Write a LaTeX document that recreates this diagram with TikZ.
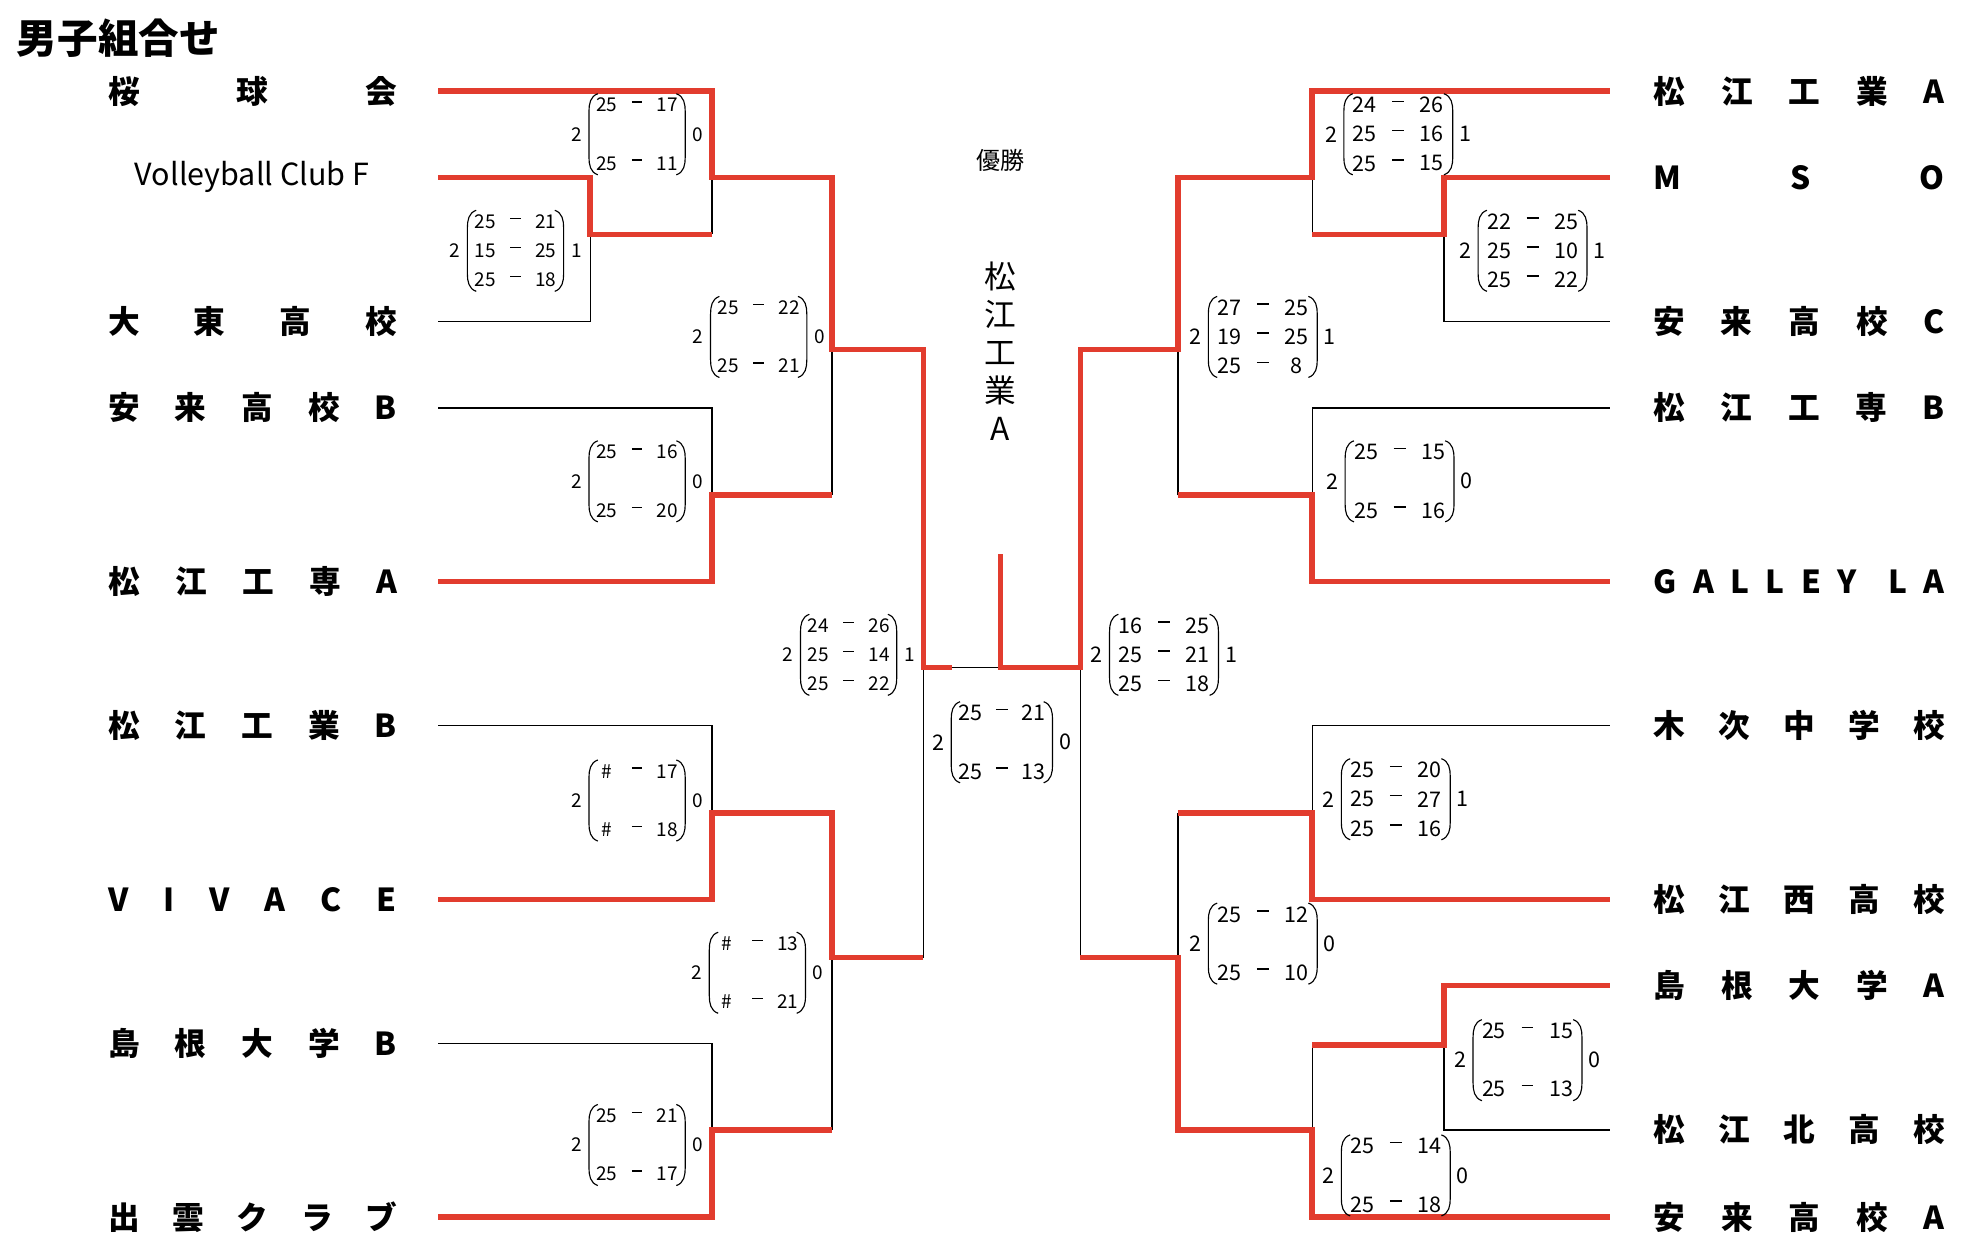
\documentclass[tikz,border=0pt]{standalone}
\usepackage{fontspec}
\usepackage{graphicx}
\setmainfont{Noto Sans CJK JP}
\definecolor{bred}{RGB}{226,60,46}
\tikzset{
  win/.style={draw=bred, line width=2.2pt},
  lose/.style={draw=black, line width=0.55pt},
  paren/.style={draw=black, line width=0.45pt},
  scL/.style={font=\fontsize{7.5}{9}\selectfont, inner sep=0pt},
  scR/.style={font=\fontsize{8.5}{10}\selectfont, inner sep=0pt},
  team/.style={font=\bfseries\fontsize{12.5}{14}\selectfont, inner sep=0pt, anchor=west},
}
\newcommand\sblk[7]{%
  \node[#2] (#1-l) at ({#3-#5},#4) {#6};
  \node[#2] (#1-r) at ({#3+#5},#4) {#7};
  \draw[paren] ({#3-#5+17},{#4-32}) .. controls ({#3-#5+11},{#4-30}) and ({#3-#5+10},{#4-24}) .. ({#3-#5+10},{#4-18}) -- ({#3-#5+10},{#4+18}) .. controls ({#3-#5+10},{#4+24}) and ({#3-#5+11},{#4+30}) .. ({#3-#5+17},{#4+32});
  \draw[paren] ({#3+#5-17},{#4-32}) .. controls ({#3+#5-11},{#4-30}) and ({#3+#5-10},{#4-24}) .. ({#3+#5-10},{#4-18}) -- ({#3+#5-10},{#4+18}) .. controls ({#3+#5-10},{#4+24}) and ({#3+#5-11},{#4+30}) .. ({#3+#5-17},{#4+32});
}
\newcommand\sdash{\rule[0.34em]{0.55em}{0.075em}}
\newcommand\srow[7]{%
  \node[#2] (#1-a) at ({#3-#5/2},#4) {#6};
  \node[#2] (#1-d) at (#3,#4) {\sdash};
  \node[#2] (#1-b) at ({#3+#5/2},#4) {#7};
}
\newcommand\tnL[3]{\node[team] (#1) at (85,#2) {\hbox to 114pt{#3}};}
\newcommand\tnR[3]{\node[team] (#1) at (1305,#2) {\hbox to 115pt{#3}};}
\begin{document}
\begin{tikzpicture}[x=0.5pt,y=-0.5pt]
\useasboundingbox (0,0) rectangle (1568,993);
% title
\node[anchor=west, font=\bfseries\fontsize{16}{18}\selectfont, inner sep=0pt] (title) at (13,30) {男子組合せ};
% left teams
\tnL{tL1}{72}{桜\hfill 球\hfill 会}
\node[inner sep=0pt] (tL2) at (199,140) {\resizebox{92.5pt}{!}{\fontsize{13}{15}\selectfont Volleyball Club F}};
\tnL{tL3}{254}{大\hfill 東\hfill 高\hfill 校}
\tnL{tL4}{322}{安\hfill 来\hfill 高\hfill 校\hfill B}
\tnL{tL5}{459}{松\hfill 江\hfill 工\hfill 専\hfill A}
\tnL{tL6}{573}{松\hfill 江\hfill 工\hfill 業\hfill B}
\tnL{tL7}{710}{V\hfill I\hfill V\hfill A\hfill C\hfill E}
\tnL{tL8}{824}{島\hfill 根\hfill 大\hfill 学\hfill B}
\tnL{tL9}{961}{出\hfill 雲\hfill ク\hfill ラ\hfill ブ}
% right teams
\tnR{tR1}{72}{松\hfill 江\hfill 工\hfill 業\hfill A}
\tnR{tR2}{140}{M\hfill S\hfill O}
\tnR{tR3}{254}{安\hfill 来\hfill 高\hfill 校\hfill C}
\tnR{tR4}{322}{松\hfill 江\hfill 工\hfill 専\hfill B}
\tnR{tR5}{459}{G\hfill A\hfill L\hfill L\hfill E\hfill Y\hfill\hspace{3pt} L\hfill A}
\tnR{tR6}{573}{木\hfill 次\hfill 中\hfill 学\hfill 校}
\tnR{tR7}{710}{松\hfill 江\hfill 西\hfill 高\hfill 校}
\tnR{tR8}{778}{島\hfill 根\hfill 大\hfill 学\hfill A}
\tnR{tR9}{892}{松\hfill 江\hfill 北\hfill 高\hfill 校}
\tnR{tR10}{961}{安\hfill 来\hfill 高\hfill 校\hfill A}
% champion
\node[font=\fontsize{9.5}{11}\selectfont, inner sep=0pt] (yusho) at (790,127) {優勝};
\node[font=\fontsize{12.5}{15}\selectfont, inner sep=0pt, align=center] (champ) at (790,277) {松\\江\\工\\業\\A};
% coordinates
\coordinate (L1) at (346,72);  \coordinate (L2) at (346,140); \coordinate (L3) at (346,254);
\coordinate (L4) at (346,322); \coordinate (L5) at (346,459); \coordinate (L6) at (346,573);
\coordinate (L7) at (346,710); \coordinate (L8) at (346,824); \coordinate (L9) at (346,961);
\coordinate (R1) at (1271,72);  \coordinate (R2) at (1271,140); \coordinate (R3) at (1271,254);
\coordinate (R4) at (1271,322); \coordinate (R5) at (1271,459); \coordinate (R6) at (1271,573);
\coordinate (R7) at (1271,710); \coordinate (R8) at (1271,778); \coordinate (R9) at (1271,892);
\coordinate (R10) at (1271,961);
\coordinate (JA) at (466,185); \coordinate (OA) at (562,185);
\coordinate (JB) at (562,140); \coordinate (OB) at (657,140);
\coordinate (JC) at (562,391); \coordinate (OC) at (657,391);
\coordinate (JD) at (657,276); \coordinate (OD) at (729,276);
\coordinate (JE) at (562,642); \coordinate (OE) at (657,642);
\coordinate (JF) at (562,892); \coordinate (OF) at (657,892);
\coordinate (JG) at (657,756); \coordinate (OG) at (729,756);
\coordinate (JH) at (729,527); \coordinate (HS) at (752,527);
\coordinate (FC) at (790,527); \coordinate (CT) at (790,437);
\coordinate (KA) at (1140,185); \coordinate (PA) at (1036,185);
\coordinate (KB) at (1036,140); \coordinate (PB) at (930,140);
\coordinate (KC) at (1036,391); \coordinate (PC) at (930,391);
\coordinate (KD) at (930,276);  \coordinate (PD) at (853,276);
\coordinate (KE) at (1036,642); \coordinate (PE) at (930,642);
\coordinate (KF) at (1140,825); \coordinate (PF) at (1036,825);
\coordinate (KG) at (1036,892); \coordinate (PG) at (930,892);
\coordinate (KH) at (930,756);  \coordinate (PH) at (853,756);
\coordinate (KS) at (853,527);
% losing lines
\draw[lose] (L3) -| (JA);
\draw[lose] (OA) -- (JB);
\draw[lose] (L4) -| (JC);
\draw[lose] (OC) -- (JD);
\draw[lose] (L6) -| (JE);
\draw[lose] (L8) -| (JF);
\draw[lose] (OF) -- (JG);
\draw[lose] (OG) -- (JH) -- (FC);
\draw[lose] (R3) -| (KA);
\draw[lose] (PA) -- (KB);
\draw[lose] (R4) -| (KC);
\draw[lose] (PC) -- (KD);
\draw[lose] (R6) -| (KE);
\draw[lose] (PE) -- (KH);
\draw[lose] (R9) -| (KF);
\draw[lose] (PF) -- (KG);
\draw[lose] (PH) -- (KS);
% winning lines
\draw[win] (L1) -| (JB) -- (OB) -- (JD) -- (OD) -- (JH) -- (HS);
\draw[win] (L2) -| (JA) -- (OA);
\draw[win] (L5) -| (JC) -- (OC);
\draw[win] (L7) -| (JE) -- (OE) -- (JG) -- (OG);
\draw[win] (L9) -| (JF) -- (OF);
\draw[win] (R1) -| (KB) -- (PB) -- (KD) -- (PD) -- (KS) -- (FC) -- (CT);
\draw[win] (R2) -| (KA) -- (PA);
\draw[win] (R5) -| (KC) -- (PC);
\draw[win] (R7) -| (KE) -- (PE);
\draw[win] (R8) -| (KF) -- (PF);
\draw[win] (R10) -| (KG) -- (PG) -- (KH) -- (PH);
% scores left
\sblk{sA}{scL}{407}{198}{48}{2}{1}
\srow{sA1}{scL}{407}{175}{48}{25}{21}
\srow{sA2}{scL}{407}{198}{48}{15}{25}
\srow{sA3}{scL}{407}{221}{48}{25}{18}
\sblk{sB}{scL}{503}{106}{48}{2}{0}
\srow{sB1}{scL}{503}{83}{48}{25}{17}
\srow{sB2}{scL}{503}{129}{48}{25}{11}
\sblk{sC}{scL}{503}{380}{48}{2}{0}
\srow{sC1}{scL}{503}{357}{48}{25}{16}
\srow{sC2}{scL}{503}{403}{48}{25}{20}
\sblk{sD}{scL}{599}{266}{48}{2}{0}
\srow{sD1}{scL}{599}{243}{48}{25}{22}
\srow{sD2}{scL}{599}{289}{48}{25}{21}
\sblk{sE}{scL}{503}{632}{48}{2}{0}
\srow{sE1}{scL}{503}{609}{48}{\#}{17}
\srow{sE2}{scL}{503}{655}{48}{\#}{18}
\sblk{sF}{scL}{503}{904}{48}{2}{0}
\srow{sF1}{scL}{503}{881}{48}{25}{21}
\srow{sF2}{scL}{503}{927}{48}{25}{17}
\sblk{sG}{scL}{598}{768}{48}{2}{0}
\srow{sG1}{scL}{598}{745}{48}{\#}{13}
\srow{sG2}{scL}{598}{791}{48}{\#}{21}
\sblk{sH}{scL}{670}{517}{48}{2}{1}
\srow{sH1}{scL}{670}{494}{48}{24}{26}
\srow{sH2}{scL}{670}{517}{48}{25}{14}
\srow{sH3}{scL}{670}{540}{48}{25}{22}
% final
\sblk{sX}{scR}{791}{586}{50}{2}{0}
\srow{sX1}{scR}{791}{563}{50}{25}{21}
\srow{sX2}{scR}{791}{609}{50}{25}{13}
% scores right
\sblk{rA}{scR}{1210}{198}{53}{2}{1}
\srow{rA1}{scR}{1210}{175}{53}{22}{25}
\srow{rA2}{scR}{1210}{198}{53}{25}{10}
\srow{rA3}{scR}{1210}{221}{53}{25}{22}
\sblk{rB}{scR}{1104}{106}{53}{2}{1}
\srow{rB1}{scR}{1104}{83}{53}{24}{26}
\srow{rB2}{scR}{1104}{106}{53}{25}{16}
\srow{rB3}{scR}{1104}{129}{53}{25}{15}
\sblk{rC}{scR}{1105}{380}{53}{2}{0}
\srow{rC1}{scR}{1105}{357}{53}{25}{15}
\srow{rC2}{scR}{1105}{403}{53}{25}{16}
\sblk{rD}{scR}{997}{266}{53}{2}{1}
\srow{rD1}{scR}{997}{243}{53}{27}{25}
\srow{rD2}{scR}{997}{266}{53}{19}{25}
\srow{rD3}{scR}{997}{289}{53}{25}{8}
\sblk{rE}{scR}{1102}{631}{53}{2}{1}
\srow{rE1}{scR}{1102}{608}{53}{25}{20}
\srow{rE2}{scR}{1102}{631}{53}{25}{27}
\srow{rE3}{scR}{1102}{654}{53}{25}{16}
\sblk{rF}{scR}{1206}{837}{53}{2}{0}
\srow{rF1}{scR}{1206}{814}{53}{25}{15}
\srow{rF2}{scR}{1206}{860}{53}{25}{13}
\sblk{rG}{scR}{1102}{928}{53}{2}{0}
\srow{rG1}{scR}{1102}{905}{53}{25}{14}
\srow{rG2}{scR}{1102}{951}{53}{25}{18}
\sblk{rH}{scR}{997}{745}{53}{2}{0}
\srow{rH1}{scR}{997}{722}{53}{25}{12}
\srow{rH2}{scR}{997}{768}{53}{25}{10}
\sblk{rS}{scR}{919}{517}{53}{2}{1}
\srow{rS1}{scR}{919}{494}{53}{16}{25}
\srow{rS2}{scR}{919}{517}{53}{25}{21}
\srow{rS3}{scR}{919}{540}{53}{25}{18}
\end{tikzpicture}
\end{document}
